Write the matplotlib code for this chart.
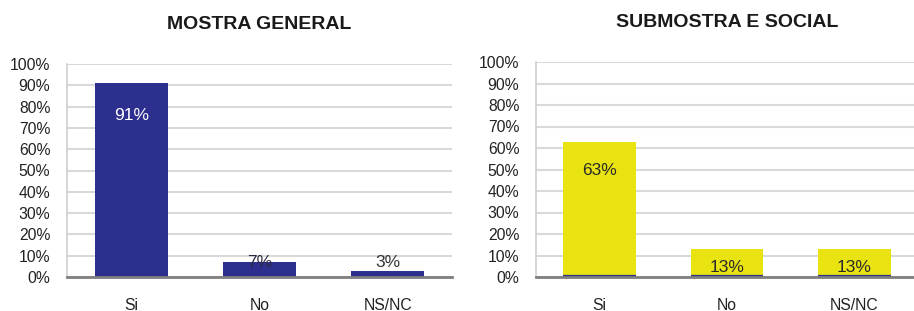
import matplotlib
matplotlib.use("Agg")
import matplotlib.pyplot as plt
import numpy as np

plt.rcParams['font.family'] = ['Liberation Sans', 'DejaVu Sans']

categories = ["Si", "No", "NS/NC"]
general_values = [91, 7, 3]
social_values = [63, 13, 13]
titles = ["MOSTRA GENERAL", "SUBMOSTRA E SOCIAL"]
yticks = list(range(0, 101, 10))
ytick_labels = [f"{t}%" for t in yticks]

navy = "#2d2f8e"
yellow = "#e9e312"

fig = plt.figure(figsize=(9.14, 3.11), dpi=100)
fig.patch.set_facecolor("white")

ax1 = fig.add_axes([67/914, 34/311, 385/914, 213/311])
ax2 = fig.add_axes([536/914, 34/311, 382/914, 215/311])

def draw(ax, values, color, title, label_colors, label_offsets, bottom_line):
    x = np.arange(len(categories))
    width = 0.57
    bars = ax.bar(x, values, width=width, color=color, zorder=3)
    if bottom_line:
        for b in bars:
            ax.hlines(0.4, b.get_x(), b.get_x() + b.get_width(), color=navy,
                      lw=1.6, zorder=4)
    ax.set_xlim(-0.5, len(categories) - 0.5)
    ax.set_ylim(0, 100)
    ax.set_yticks(yticks)
    ax.set_yticklabels(ytick_labels)
    ax.set_xticks(x)
    ax.set_xticklabels(categories)
    ax.yaxis.grid(True, color="#d9d9d9", lw=1.5, zorder=0)
    ax.set_axisbelow(True)
    ax.tick_params(axis="y", length=0, pad=12, labelsize=11.3, labelcolor="#222222")
    ax.tick_params(axis="x", length=0, pad=15, labelsize=11.3, labelcolor="#222222")
    for s in ["top", "right"]:
        ax.spines[s].set_visible(False)
    ax.spines["left"].set_color("#cfcfcf")
    ax.spines["left"].set_linewidth(1.2)
    ax.spines["bottom"].set_color("#7f7f7f")
    ax.spines["bottom"].set_linewidth(2)
    ax.spines["bottom"].set_zorder(5)
    for xi, v, c, off in zip(x, values, label_colors, label_offsets):
        ax.annotate(f"{v}%", (xi, v), xytext=(0, off), textcoords="offset points",
                    ha="center", va="center", fontsize=12.5, color=c, zorder=6)
    ax.set_title(title, fontsize=14, fontweight="bold", color="#1a1a1a", pad=25)

draw(ax1, general_values, navy, titles[0], ["white", "#2a2a40", "#333333"],
     [-23, 0, 6], False)
draw(ax2, social_values, yellow, titles[1], ["#2a2a2a", "#2a2a2a", "#2a2a2a"],
     [-21, -13, -13], True)

fig.savefig("out.png", dpi=100, facecolor="white")
